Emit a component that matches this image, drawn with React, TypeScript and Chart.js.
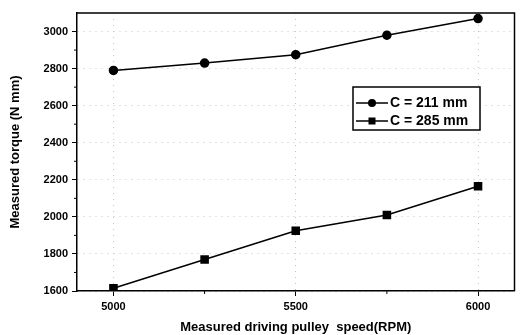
import React, { useEffect, useRef } from "react";
import { Chart, registerables } from "chart.js";

Chart.register(...registerables);

const SPEEDS = [5000, 5250, 5500, 5750, 6000];
const TORQUE_C211 = [2790, 2830, 2875, 2980, 3070];
const TORQUE_C285 = [1615, 1770, 1925, 2010, 2165];
const X_TICKS = [5000, 5500, 6000];
const X_MINOR = [5250, 5750];
const Y_TICKS = [1600, 1800, 2000, 2200, 2400, 2600, 2800, 3000];
const Y_MINOR = [1700, 1900, 2100, 2300, 2500, 2700, 2900];
const SERIES_LABELS = ["C = 211 mm", "C = 285 mm"];

const FONT = "'Liberation Sans', Arial, sans-serif";

const framePlugin = {
  id: "frameAndLegend",
  afterDraw(chart: any) {
    const { ctx, chartArea: a, scales } = chart;
    ctx.save();
    ctx.strokeStyle = "#000";
    ctx.lineWidth = 1.5;
    ctx.beginPath();
    ctx.moveTo(a.left, a.top);
    ctx.lineTo(a.right, a.top);
    ctx.lineTo(a.right, a.bottom);
    ctx.stroke();
    // minor ticks
    ctx.lineWidth = 1;
    ctx.beginPath();
    for (const v of X_MINOR) {
      const x = scales.x.getPixelForValue(v);
      ctx.moveTo(x, a.bottom);
      ctx.lineTo(x, a.bottom + 3);
    }
    for (const v of Y_MINOR) {
      const y = scales.y.getPixelForValue(v);
      ctx.moveTo(a.left, y);
      ctx.lineTo(a.left - 3, y);
    }
    ctx.stroke();
    // legend
    const bx = 353, by = 87, bw = 127, bh = 43;
    ctx.fillStyle = "#fff";
    ctx.fillRect(bx, by, bw, bh);
    ctx.lineWidth = 1.5;
    ctx.strokeRect(bx, by, bw, bh);
    const rows = [103, 121];
    chart.data.datasets.forEach((ds: any, i: number) => {
      const y = rows[i];
      ctx.lineWidth = 1.5;
      ctx.strokeStyle = "#000";
      ctx.beginPath();
      ctx.moveTo(356, y);
      ctx.lineTo(388, y);
      ctx.stroke();
      ctx.fillStyle = "#000";
      if (ds.pointStyle === "circle") {
        ctx.beginPath();
        ctx.arc(372, y, 4, 0, Math.PI * 2);
        ctx.fill();
      } else {
        ctx.fillRect(368.5, y - 3.5, 7, 7);
      }
      ctx.font = `bold 14px ${FONT}`;
      ctx.textBaseline = "middle";
      ctx.textAlign = "left";
      ctx.fillText(ds.label, 390, y + 0.5);
    });
    ctx.restore();
  },
};

const plain = (v: any) => String(v);

export default function App() {
  const ref = useRef<HTMLCanvasElement>(null);
  useEffect(() => {
    document.body.style.margin = "0";
    const chart = new Chart(ref.current!, {
      type: "line",
      data: {
        datasets: [
          {
            label: SERIES_LABELS[0],
            data: SPEEDS.map((x, i) => ({ x, y: TORQUE_C211[i] })),
            borderColor: "#000",
            backgroundColor: "#000",
            borderWidth: 1.5,
            pointStyle: "circle",
            pointRadius: 4,
            tension: 0,
          },
          {
            label: SERIES_LABELS[1],
            data: SPEEDS.map((x, i) => ({ x, y: TORQUE_C285[i] })),
            borderColor: "#000",
            backgroundColor: "#000",
            borderWidth: 1.5,
            pointStyle: "rect",
            pointRadius: 5,
            tension: 0,
          },
        ],
      },
      options: {
        animation: false,
        responsive: false,
        devicePixelRatio: 1,
        layout: { padding: { left: 0, top: 13, right: 4, bottom: 0 } },
        plugins: { legend: { display: false }, tooltip: { enabled: false } },
        scales: {
          x: {
            type: "linear",
            min: 4900,
            max: 6100,
            afterBuildTicks: (s: any) => {
              s.ticks = X_TICKS.map((value) => ({ value }));
            },
            afterFit: (s: any) => {
              s.height = 44;
            },
            grid: {
              color: "#c4c4c4",
              lineWidth: 1,
              tickColor: "#000",
              tickLength: 5,
              tickWidth: 1,
            },
            border: { color: "#000", width: 1.5, dash: [1, 5] },
            ticks: {
              color: "#000",
              font: { family: FONT, size: 11, weight: "bold" },
              padding: 4,
              maxRotation: 0,
              callback: plain,
            },
            title: {
              display: true,
              text: "Measured driving pulley  speed(RPM)",
              color: "#000",
              font: { family: FONT, size: 13, weight: "bold" },
              padding: { top: 0, bottom: 0 },
            },
          },
          y: {
            type: "linear",
            min: 1600,
            max: 3100,
            afterBuildTicks: (s: any) => {
              s.ticks = Y_TICKS.map((value) => ({ value }));
            },
            afterFit: (s: any) => {
              s.width = 77;
            },
            grid: {
              color: "#c4c4c4",
              lineWidth: 1,
              tickColor: "#000",
              tickLength: 5,
              tickWidth: 1,
            },
            border: { color: "#000", width: 1.5, dash: [1, 5] },
            ticks: {
              color: "#000",
              font: { family: FONT, size: 11, weight: "bold" },
              padding: 4,
              callback: plain,
            },
            title: {
              display: true,
              text: "Measured torque (N mm)",
              color: "#000",
              font: { family: FONT, size: 13, weight: "bold" },
              padding: { top: 8, bottom: 0 },
            },
          },
        },
      },
      plugins: [framePlugin],
    } as any);
    return () => chart.destroy();
  }, []);
  return (
    <div style={{ position: "absolute", left: 0, top: 0, width: 521, height: 335, background: "#fff" }}>
      <canvas ref={ref} width={521} height={335} style={{ display: "block" }} />
    </div>
  );
}
